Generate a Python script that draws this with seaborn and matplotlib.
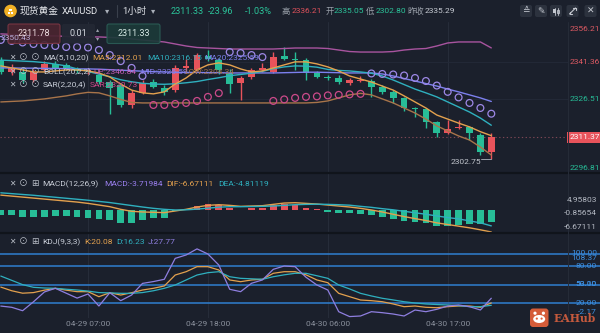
import matplotlib
matplotlib.use("Agg")
import numpy as np
import pandas as pd
import matplotlib.pyplot as plt
from matplotlib.patches import FancyBboxPatch, Circle, Ellipse, Rectangle
import seaborn as sns

# ---------------- hourly XAUUSD bars (oldest -> newest) ----------------
opens = [2342.0, 2337.3, 2337.3, 2334.1, 2338.0, 2340.5, 2340.0, 2338.5, 2337.5, 2336.1,
         2333.5, 2332.0, 2324.2, 2329.0, 2333.2, 2331.0, 2330.0, 2338.8, 2338.1, 2343.8,
         2342.0, 2337.0, 2332.9, 2335.3, 2338.0, 2337.3, 2343.6, 2342.6, 2342.0, 2336.9,
         2335.05, 2334.9, 2332.9, 2333.9, 2333.7, 2331.3, 2329.3, 2326.9, 2322.9, 2322.6,
         2317.4, 2313.1, 2315.0, 2315.4, 2312.3, 2305.5]
highs = [2343.2, 2340.5, 2339.0, 2338.5, 2341.5, 2341.8, 2340.8, 2339.2, 2339.0, 2337.0,
         2334.2, 2332.8, 2330.0, 2334.0, 2334.5, 2332.0, 2340.0, 2342.3, 2345.0, 2346.0,
         2343.0, 2338.5, 2335.5, 2338.8, 2341.0, 2345.3, 2347.2, 2345.2, 2342.8, 2337.8,
         2336.21, 2335.9, 2334.8, 2335.5, 2334.5, 2332.0, 2330.0, 2327.5, 2323.5, 2323.0,
         2318.0, 2318.2, 2318.2, 2316.0, 2313.0, 2313.0]
lows = [2336.5, 2336.0, 2333.0, 2333.2, 2337.5, 2338.2, 2338.0, 2336.8, 2336.5, 2332.5,
        2320.5, 2323.5, 2323.0, 2328.5, 2330.8, 2328.0, 2329.5, 2338.0, 2337.5, 2341.5,
        2336.5, 2329.0, 2326.2, 2334.5, 2337.2, 2336.8, 2342.0, 2338.2, 2334.1, 2334.8,
        2334.3, 2332.7, 2332.3, 2333.3, 2327.3, 2328.5, 2324.9, 2322.0, 2319.4, 2315.0,
        2311.5, 2312.5, 2314.5, 2310.3, 2304.4, 2302.75]
closes = [2337.3, 2339.0, 2334.1, 2337.3, 2340.5, 2339.0, 2338.8, 2337.5, 2338.2, 2333.3,
          2331.0, 2324.2, 2329.0, 2333.0, 2331.3, 2329.5, 2339.0, 2339.6, 2344.0, 2342.5,
          2338.1, 2332.5, 2334.9, 2338.1, 2338.7, 2343.2, 2342.6, 2342.0, 2336.9, 2335.29,
          2334.9, 2333.3, 2334.1, 2334.3, 2331.3, 2329.3, 2326.9, 2323.0, 2322.6, 2317.4,
          2313.1, 2314.6, 2315.4, 2313.1, 2305.5, 2311.33]

# ---------------- overlays on the price panel ----------------
ma5 = [2339.7, 2338.9, 2338.1, 2337.3, 2337.3, 2337.7, 2338.1, 2338.1, 2337.7, 2336.9,
       2335.3, 2332.5, 2330.1, 2329.0, 2328.6, 2329.4, 2332.5, 2334.9, 2338.1, 2340.1,
       2340.9, 2340.1, 2338.5, 2337.3, 2337.7, 2338.9, 2340.1, 2341.3, 2341.3, 2340.5,
       2339.3, 2337.7, 2335.7, 2334.5, 2333.3, 2331.7, 2330.1, 2327.8, 2325.4, 2323.0,
       2320.2, 2318.6, 2317.0, 2315.5, 2313.6, 2312.01]
ma10 = [2342.0, 2341.8, 2341.6, 2341.4, 2341.0, 2340.4, 2339.7, 2338.5, 2337.5, 2336.4,
        2335.4, 2334.2, 2333.4, 2332.8, 2332.5, 2332.4, 2332.6, 2333.0, 2333.5, 2334.3,
        2335.0, 2335.8, 2336.3, 2336.8, 2337.5, 2338.6, 2339.3, 2339.7, 2339.6, 2339.2,
        2338.3, 2337.9, 2337.7, 2337.3, 2336.8, 2335.7, 2334.1, 2332.3, 2330.5, 2329.0,
        2327.4, 2325.4, 2323.4, 2321.4, 2319.0, 2316.15]
ma20 = [2338.9, 2338.9, 2338.8, 2338.8, 2338.7, 2338.7, 2338.6, 2338.5, 2338.5, 2338.4,
        2338.2, 2338.0, 2337.8, 2337.6, 2337.4, 2337.3, 2337.2, 2337.1, 2337.1, 2337.0,
        2337.0, 2336.9, 2336.9, 2336.9, 2336.9, 2336.9, 2337.0, 2337.1, 2337.2, 2337.2,
        2337.1, 2337.0, 2336.9, 2336.9, 2336.9, 2336.5, 2335.7, 2334.7, 2333.7, 2332.7,
        2331.7, 2330.5, 2329.4, 2328.2, 2327.0, 2325.59]
boll_up = [2352.4, 2352.2, 2352.0, 2351.8, 2351.6, 2351.6, 2351.4, 2351.2, 2351.2, 2351.2,
           2351.0, 2350.8, 2350.4, 2350.0, 2349.6, 2349.2, 2348.4, 2347.6, 2347.0, 2346.8,
           2346.6, 2346.4, 2346.4, 2346.4, 2346.4, 2346.4, 2346.6, 2346.8, 2346.8, 2346.8,
           2346.6, 2346.0, 2345.4, 2345.2, 2345.2, 2345.2, 2345.4, 2346.0, 2346.4, 2346.6,
           2347.6, 2348.8, 2349.2, 2349.2, 2349.2, 2346.84]
boll_low = [2325.4, 2325.6, 2325.8, 2326.2, 2326.6, 2327.2, 2327.8, 2328.6, 2329.2, 2329.0,
            2327.8, 2326.4, 2325.2, 2325.0, 2325.0, 2325.0, 2325.0, 2325.0, 2325.0, 2325.0,
            2325.0, 2325.0, 2325.0, 2325.0, 2325.0, 2325.0, 2325.0, 2325.0, 2325.0, 2325.2,
            2325.8, 2327.0, 2328.2, 2328.8, 2328.2, 2326.6, 2325.0, 2323.0, 2321.0, 2318.6,
            2315.9, 2313.9, 2311.9, 2310.3, 2307.5, 2304.34]
sar = [2350.0, 2349.6, 2349.0, 2348.4, 2348.0, 2347.6, 2347.2, 2347.2, 2347.0, 2346.0,
       2344.0, 2341.6, 2338.9, 2335.7, 2324.2, 2324.2, 2324.6, 2325.0, 2325.8, 2327.4,
       2328.9, 2345.2, 2344.8, 2344.0, 2343.2, 2325.8, 2326.4, 2327.0, 2327.4, 2327.6,
       2328.0, 2328.2, 2328.4, 2328.6, 2336.7, 2336.5, 2336.3, 2335.9, 2334.9, 2333.7,
       2331.9, 2329.4, 2327.2, 2325.0, 2323.0, 2320.73]

# ---------------- MACD(12,26,9) ----------------
dif = [4.5, 4.2, 3.9, 3.6, 3.3, 3.0, 2.7, 2.4, 2.0, 1.5,
       1.0, 0.2, -0.4, -0.6, -0.7, -0.8, -0.3, 0.2, 0.9, 1.4,
       1.6, 1.4, 1.1, 1.2, 1.3, 1.7, 2.1, 2.2, 2.0, 1.8,
       1.5, 1.2, 0.9, 0.5, 0.0, -0.6, -1.3, -2.0, -2.6, -3.2,
       -3.9, -4.4, -4.9, -5.4, -6.0, -6.67111]
dea = [5.2, 4.95, 4.7, 4.45, 4.15, 3.85, 3.55, 3.25, 2.95, 2.6,
       2.25, 1.8, 1.35, 0.9, 0.5, 0.2, 0.0, 0.05, 0.25, 0.55,
       0.85, 1.0, 1.0, 1.05, 1.1, 1.2, 1.4, 1.6, 1.7, 1.75,
       1.7, 1.6, 1.45, 1.1, 0.8, 0.4, 0.05, -0.4, -0.85, -1.3,
       -1.8, -2.3, -2.7, -3.3, -3.9, -4.81119]
macd_hist = [-1.5, -1.5, -2.0, -2.0, -2.0, -1.9, -1.9, -2.0, -2.5, -2.8,
             -3.0, -4.0, -4.0, -3.0, -2.5, -2.3, -0.3, 0.1, 1.3, 1.7,
             1.5, 0.6, 0.1, 0.5, 0.5, 1.4, 1.7, 1.5, 0.5, 0.2,
             -0.5, -1.0, -1.0, -1.2, -1.5, -2.0, -2.8, -3.2, -3.5, -3.8,
             -5.0, -4.8, -4.5, -4.2, -4.2, -3.71984]

# ---------------- KDJ(9,3,3) ----------------
k_line = [46, 40, 36, 37, 41, 44, 41, 38.5, 38.5, 30.3,
          36.8, 33, 36.8, 41.2, 44, 47.8, 65.7, 71.1, 79.3, 79.3,
          73.9, 57.6, 54.8, 57.6, 58.7, 68.5, 71.1, 71.1, 66, 57.6,
          53.2, 35.8, 30.3, 24.9, 23.8, 22.1, 18.4, 14, 15.1, 13,
          12.3, 14, 15.1, 15.1, 13, 20.08]
d_line = [64, 57, 50, 45.6, 44.5, 44, 42.5, 41.2, 39.5, 37,
          36.5, 35.8, 35.8, 37, 40, 44, 49.4, 57.6, 65.7, 69.5,
          71.1, 62.9, 60.3, 59.5, 58.7, 62.9, 66, 68.5, 68.5, 64.5,
          60.3, 49.4, 43, 35.8, 31.5, 27.7, 25, 22.1, 20, 18.4,
          17.5, 16.8, 15.8, 14, 14, 16.23]
j_line = [15, 13, 7.4, 22, 38, 44, 36, 28, 34.7, 15.1,
          36.8, 23.8, 33, 52, 55, 58.7, 92.9, 98.4, 108.37, 100,
          82, 42.4, 38.5, 52.2, 57.6, 75, 80.4, 79.3, 62, 49.4,
          41.2, 5.8, -2.17, -1.2, 5.8, 4.2, 2.0, -1.2, 8.6, 5.8,
          9.7, 15.1, 16.8, 14, 8.6, 27.77]
kdj_levels = [100, 80, 50, 20]

# ---------------- axis labels ----------------
tick_bars = [8, 19, 30, 41]
tick_labels = ["04-29 07:00", "04-29 18:00", "04-30 06:00", "04-30 17:00"]
price_ticks = [2356.21, 2341.36, 2326.51, 2296.81]
last_price = 2311.37
low_mark = 2302.75

# ---------------- style ----------------
BG = "#1b202c"
RED = "#e8535b"
GREEN = "#27bd97"
C_MA5 = "#e3a14e"
C_MA10 = "#2fb0bf"
C_MA20 = "#7c80ee"
C_UP = "#a8549f"
C_LOW = "#a8744a"
C_SAR_UP = "#cc4a8a"
C_SAR_DN = "#9d88e6"
C_J = "#8f7fe0"
C_LVL = "#2f7fd0"
TXT = "#c9ced8"
GRAY = "#8b919d"

sns.set_theme(style="dark", rc={"axes.facecolor": BG, "figure.facecolor": BG,
                                "savefig.facecolor": BG})
plt.rcParams["font.family"] = ["Roboto", "Noto Sans CJK SC", "DejaVu Sans"]

W, H = 600, 333
X0, STEP = 0.8, 10.9          # pixel position of the first bar and bar spacing
PLOT_R = 568                  # right edge of the plotting area (price scale beyond)


def px2i(px):
    return (px - X0) / STEP


fig = plt.figure(figsize=(W / 100, H / 100), dpi=100)


def panel(top, bottom):
    a = fig.add_axes([0, 1 - bottom / H, PLOT_R / W, (bottom - top) / H])
    a.set_facecolor(BG)
    for s in a.spines.values():
        s.set_visible(False)
    a.set_xticks([])
    a.set_yticks([])
    a.grid(False)
    for b in tick_bars:
        a.axvline(b, color="#262c39", lw=0.8, zorder=0)
    return a


ax = panel(22, 173)
axm = panel(173, 233)
axk = panel(233, 318)

xs = np.arange(len(closes))

# ---- price panel ----
for p in price_ticks[1:3]:
    ax.axhline(p, color="#232937", lw=0.7, zorder=0)
ax.axhline(last_price, color="#7d4755", lw=0.8, ls=(0, (1.2, 2.2)), zorder=1)

bars = pd.DataFrame({"x": xs, "o": opens, "h": highs, "l": lows, "c": closes})
rising = bars.c >= bars.o
ccol = np.where(rising, RED, GREEN)
ax.vlines(bars.x, bars.l, bars.h, colors=ccol, lw=1.0, zorder=3)
body_lo = np.minimum(bars.o, bars.c)
body_h = np.maximum((bars.c - bars.o).abs(), 0.3)
ax.bar(bars.x, body_h, bottom=body_lo, width=0.62, color=ccol, lw=0, zorder=4)

lines = pd.DataFrame({"bar": xs, "UP": boll_up, "LOW": boll_low, "MA20": ma20,
                      "MA10": ma10, "MA5": ma5})
lines_long = lines.melt(id_vars="bar", var_name="line", value_name="price")
sns.lineplot(data=lines_long, x="bar", y="price", hue="line", estimator=None,
             palette={"UP": C_UP, "LOW": C_LOW, "MA20": C_MA20, "MA10": C_MA10, "MA5": C_MA5},
             lw=1.0, legend=False, ax=ax, zorder=5)

sar_arr = np.array(sar)
above = sar_arr > np.array(closes)
ax.scatter(xs[above], sar_arr[above], s=24, facecolors="none", edgecolors=C_SAR_DN,
           linewidths=0.9, zorder=6)
ax.scatter(xs[~above], sar_arr[~above], s=24, facecolors="none", edgecolors=C_SAR_UP,
           linewidths=0.9, zorder=6)

# lowest price marker
lo_i = int(np.argmin(lows))
ax.plot([lo_i - 0.9, lo_i], [lows[lo_i], lows[lo_i]], color="#9aa0aa", lw=0.7, zorder=6)
ax.text(lo_i - 0.95, lows[lo_i], f"{low_mark:.2f}", color="#c2c6ce", fontsize=6,
        ha="right", va="top", zorder=7)

# price scale (inner ticks on their values)
ax.text(px2i(570), price_ticks[1], f"{price_ticks[1]:.2f}", color="#dd5a63",
        fontsize=6, ha="left", va="center", clip_on=False)
ax.text(px2i(570), price_ticks[2], f"{price_ticks[2]:.2f}", color=GREEN,
        fontsize=6, ha="left", va="center", clip_on=False)
ax.text(px2i(569.5), last_price, f"{last_price:.2f}", color="white", fontsize=6,
        ha="left", va="center", clip_on=False, zorder=8,
        bbox=dict(boxstyle="square,pad=0.3", fc=RED, ec="none"))

# ---- MACD panel ----
hcol = np.where(np.array(macd_hist) >= 0, RED, GREEN)
axm.bar(xs, macd_hist, width=0.62, color=hcol, lw=0, zorder=2)
macd_df = pd.DataFrame({"bar": xs, "DIF": dif, "DEA": dea}).melt(
    id_vars="bar", var_name="line", value_name="v")
sns.lineplot(data=macd_df, x="bar", y="v", hue="line", estimator=None,
             palette={"DIF": C_MA5, "DEA": C_MA10}, lw=1.0, legend=False, ax=axm, zorder=3)

# ---- KDJ panel ----
for lv in kdj_levels:
    axk.axhline(lv, xmin=0, xmax=W / PLOT_R, color=C_LVL, lw=1.1, zorder=1, clip_on=False)
kdj_df = pd.DataFrame({"bar": xs, "K": k_line, "D": d_line, "J": j_line}).melt(
    id_vars="bar", var_name="line", value_name="v")
sns.lineplot(data=kdj_df, x="bar", y="v", hue="line", estimator=None,
             palette={"K": C_MA5, "D": C_MA10, "J": C_J}, lw=0.9, legend=False, ax=axk, zorder=3)
axk.set_xticks(tick_bars)
axk.set_xticklabels(tick_labels, color=GRAY, fontsize=6)
axk.tick_params(axis="x", length=0, pad=2)

for a in (ax, axm, axk):
    a.set_xlim(px2i(0), px2i(PLOT_R))
    a.set_xlabel("")
    a.set_ylabel("")
    a.set_yticks([])
ax.set_ylim(2297.2, 2357.12)
axm.set_ylim(-6.97, 11.2)
axk.set_ylim(-4.49, 134.3)

# ---------------- overlay (pixel coordinates) ----------------
ov = fig.add_axes([0, 0, 1, 1], zorder=10)
ov.set_xlim(0, W)
ov.set_ylim(H, 0)
ov.axis("off")


def t(x, y, s, color=TXT, size=6, ha="left", va="center", **kw):
    ov.text(x, y, s, color=color, fontsize=size, ha=ha, va=va, **kw)


# panel separators and price-scale divider
for yy in (173, 233):
    ov.plot([0, W], [yy, yy], color="#10141b", lw=1.6)
ov.plot([PLOT_R, PLOT_R], [22, 318], color="#262c38", lw=0.7)

# outer price-scale labels sit inside the panel edges
t(570, 29, f"{price_ticks[0]:.2f}", "#dd5a63")
t(570, 167.5, f"{price_ticks[3]:.2f}", GREEN)

# header
ov.add_patch(Circle((10.5, 11), 5.6, color="#f1b125"))
for rx, ry in ((7.6, 11.6), (10.6, 11.6), (9.1, 8.6)):
    ov.add_patch(Rectangle((rx, ry), 2.6, 2.2, color="white", lw=0))
t(19.5, 11, "现货黄金", "#e8eaee", 7.0)
t(62, 11, "XAUUSD", "#e8eaee", 6.8)
t(104.5, 11.5, "▾", "#aab0ba", 6)
ov.plot([117, 117], [5, 17], color="#3a404c", lw=0.8)
t(122.5, 11, "1小时", "#e0e3e8", 6.8)
t(150.5, 11.5, "▾", "#aab0ba", 6)
t(171, 11, "2311.33", "#2bc49a", 6.6)
t(207.5, 11, "-23.96", "#2bc49a", 6.6)
t(244.5, 11, "-1.03%", "#2bc49a", 6.6)
t(281.5, 11, "高", "#9aa0aa", 6.0)
t(291.5, 11, "2336.21", "#e0525c", 6.0)
t(325.5, 11, "开", "#9aa0aa", 6.0)
t(334, 11, "2335.05", "#2bc49a", 6.0)
t(366, 11, "低", "#9aa0aa", 6.0)
t(375.5, 11, "2302.80", "#2bc49a", 6.0)
t(407.5, 11, "昨收", "#9aa0aa", 6.0)
t(425, 11, "2335.29", "#c8ccd4", 6.0)

# toolbar buttons
for cx in (526, 541, 556, 572.5, 590.5):
    ov.add_patch(FancyBboxPatch((cx - 6, 5), 12, 12, boxstyle="round,pad=0,rounding_size=2",
                                fc="#2c323e", ec="none"))
t(526, 11, "≙", "#c4c8d0", 6.5, ha="center")
t(541, 11, "✎", "#c4c8d0", 6.5, ha="center")
ov.plot([554.5, 554.5], [7.5, 14.5], color="#c4c8d0", lw=0.6)
ov.add_patch(Rectangle((553.3, 9), 2.4, 3.5, fc="#c4c8d0", lw=0))
ov.plot([558, 558], [7.5, 14.5], color="#c4c8d0", lw=0.6)
ov.add_patch(Rectangle((556.8, 10), 2.4, 3, fc="#2c323e", ec="#c4c8d0", lw=0.6))
ov.plot([569.5, 575.5], [14, 8], color="#c4c8d0", lw=0.8)
ov.plot([569.5, 569.5, 571.8], [11.6, 14, 14], color="#c4c8d0", lw=0.8)
ov.plot([573.2, 575.5, 575.5], [8, 8, 10.4], color="#c4c8d0", lw=0.8)
t(590.5, 11, "✕", "#c4c8d0", 6.5, ha="center")

# order ticket boxes
t(1, 38.5, "2350.43", "#b9abd9", 6)
ov.add_patch(FancyBboxPatch((8, 24), 52, 19.5, boxstyle="round,pad=0,rounding_size=2",
                            fc="#4a2530", ec="#7c3643", lw=0.8, alpha=0.92))
t(34, 33.8, "2311.78", "#eedde0", 6.5, ha="center")
ov.add_patch(FancyBboxPatch((62, 24), 33, 19.5, boxstyle="round,pad=0,rounding_size=2",
                            fc="#232834", ec="none", alpha=0.95))
t(78.5, 33.8, "0.01", "#d6dae2", 6.5, ha="center")
t(98, 29.5, "▴", "#9aa0aa", 4.5, ha="center")
t(98, 39, "▾", "#9aa0aa", 4.5, ha="center")
ov.add_patch(FancyBboxPatch((107, 24), 53, 19.5, boxstyle="round,pad=0,rounding_size=2",
                            fc="#1c3a39", ec="#2b5d56", lw=0.8, alpha=0.92))
t(133.5, 33.8, "2311.33", "#d6e9e5", 6.5, ha="center")


def icons(y, third):
    t(12, y, "✕", "#b8bdc6", 5.5, ha="center")
    t(23.5, y, "⊙", "#b8bdc6", 6.5, ha="center")
    t(35, y, third, "#b8bdc6", 6.5, ha="center")


# price panel legends
icons(58, "⊙")
t(43, 58, "MA(5,10,20)", TXT)
t(92, 58, "MA5:2312.01", C_MA5)
t(147, 58, "MA10:2316.15", C_MA10)
t(204, 58, "MA20:2325.59", C_MA20)
icons(72, "⊙")
t(43, 72, "BOLL(20,2,2)", TXT)
t(93, 72, "UP:2346.84", "#c25cb4")
t(140, 72, "MID:2325.59", "#8a7ff0")
t(184, 72, "LOW:2304.34", C_LOW)
icons(85, "⊙")
t(43, 85, "SAR(2,20,4)", TXT)
t(90, 85, "SAR:2320.73", C_SAR_UP)

# MACD legend and scale
icons(184, "⊞")
t(42.5, 184, "MACD(12,26,9)", TXT)
t(104, 184, "MACD:-3.71984", "#9b80f0")
t(166.5, 184, "DIF:-6.67111", C_MA5)
t(218, 184, "DEA:-4.81119", C_MA10)
t(597, 200, "4.95803", "#b4b9c3", ha="right")
t(597, 213, "-0.85654", "#b4b9c3", ha="right")
t(597, 227, "-6.67111", "#b4b9c3", ha="right")

# KDJ legend and scale
icons(242, "⊞")
t(42.5, 242, "KDJ(9,3,3)", TXT)
t(84, 242, "K:20.08", C_MA5)
t(116, 242, "D:16.23", C_MA10)
t(148, 242, "J:27.77", C_J)
for lbl, yy in (("100.00", 253), ("108.37", 257.5), ("80.00", 266.5), ("50.00", 284.5),
                ("53.10", 284.5), ("20.00", 303), ("-2.17", 311.5)):
    t(597, yy, lbl, "#3d8fe0", ha="right")

# watermark
ov.add_patch(FancyBboxPatch((530, 308.5), 18.5, 18.5, boxstyle="round,pad=0,rounding_size=3",
                            fc="#e0603a", ec="none", alpha=0.95))
ov.add_patch(Ellipse((539.2, 319), 12, 8, fc="white", ec="none"))
ov.add_patch(Circle((535, 313.2), 1.6, fc="white", ec="none"))
ov.add_patch(Circle((543.4, 313.2), 1.6, fc="white", ec="none"))
ov.add_patch(Circle((536.8, 318.6), 1.1, fc="#e0603a", ec="none"))
ov.add_patch(Circle((541.6, 318.6), 1.1, fc="#e0603a", ec="none"))
ov.text(554, 318, "EAHub", color="#d8603f", fontsize=7.8, ha="left", va="center",
        family="DejaVu Serif", weight="bold", alpha=0.9)

fig.savefig("out.png", dpi=100, facecolor=BG)
